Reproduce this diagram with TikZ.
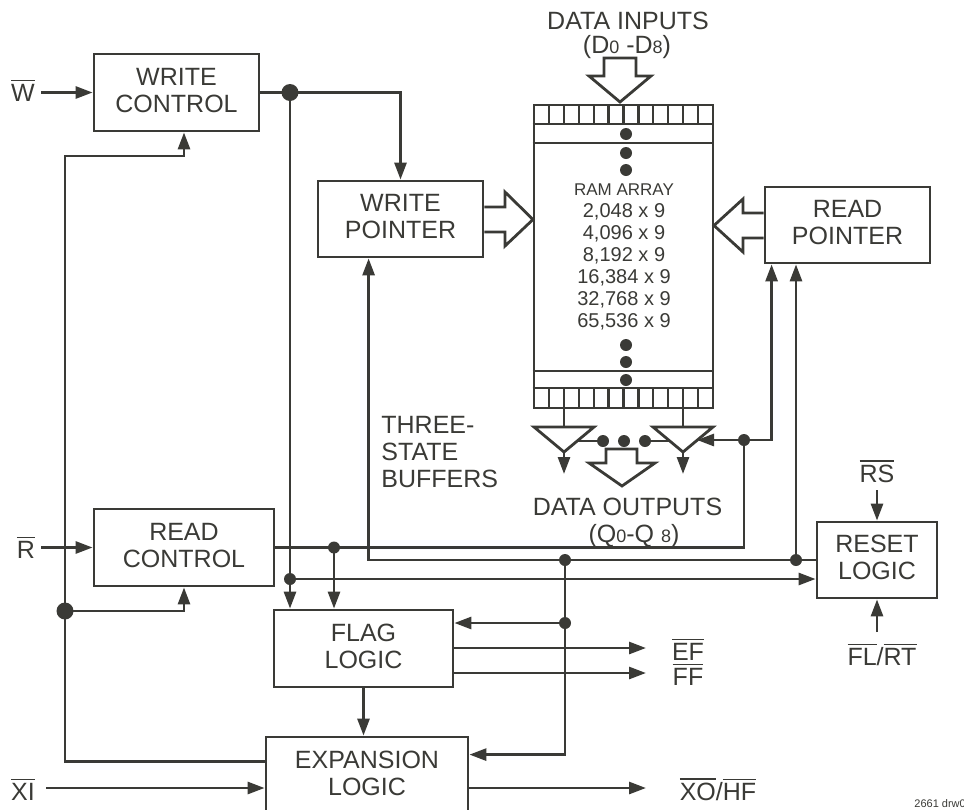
\documentclass[tikz,border=0pt]{standalone}
\usepackage{fontspec}
\setmainfont{Liberation Sans}
\usetikzlibrary{arrows.meta,calc}
\definecolor{ink}{RGB}{58,58,54}
\newcommand\ovl[1]{\leavevmode\vbox{\hrule height 1.6pt\kern 2.6pt\hbox{#1}}}
\newcommand\smd[1]{{\fontsize{18}{18}\selectfont #1}}
\begin{document}
\begin{tikzpicture}[x=1pt,y=-1pt,line width=2.8pt,color=ink,
  blk/.style={draw,line width=2.8pt,inner sep=0pt,align=center,
    font=\fontsize{25}{27}\selectfont,text depth=5pt},
  lab/.style={inner sep=0pt,font=\fontsize{25}{27}\selectfont,anchor=base},
  ramtxt/.style={inner sep=0pt,font=\fontsize{20}{20}\selectfont,anchor=base},
  dot/.style={circle,fill,inner sep=0pt,minimum size=12pt},
  bigdot/.style={circle,fill,inner sep=0pt,minimum size=17pt},
  arr/.style={-{Triangle[length=17pt,width=12pt]}},
  cell/.style={line width=2.2pt},
]
\useasboundingbox (0,0) rectangle (964,809);

% ---------------- blocks
\node[blk,minimum width=165pt,minimum height=77pt] (wc) at (176.5,92.5) {WRITE\\CONTROL};
\node[blk,minimum width=165pt,minimum height=76pt] (wp) at (400.5,219) {WRITE\\POINTER};
\node[blk,minimum width=165pt,minimum height=76pt] (rp) at (847.5,225) {READ\\POINTER};
\node[blk,minimum width=180pt,minimum height=77pt] (rc) at (184,547.5) {READ\\CONTROL};
\node[blk,minimum width=179pt,minimum height=77pt] (fl) at (363.5,648.5) {FLAG\\LOGIC};
\node[blk,minimum width=202pt,minimum height=78pt] (el) at (367,776) {EXPANSION\\LOGIC};
\node[blk,minimum width=120pt,minimum height=76pt] (rl) at (877,560) {RESET\\LOGIC};

% ---------------- RAM array
\node[draw,line width=2.8pt,minimum width=179pt,minimum height=303pt,inner sep=0pt] (ram) at (623.5,256.5) {};
\draw (ram.west |- 0,124) -- (ram.east |- 0,124);
\draw (ram.west |- 0,143) -- (ram.east |- 0,143);
\draw (ram.west |- 0,371) -- (ram.east |- 0,371);
\draw (ram.west |- 0,388) -- (ram.east |- 0,388);
\foreach \k in {1,...,11}{
  \draw[cell] ({534+\k*179/12},105) -- ({534+\k*179/12},124);
  \draw[cell] ({534+\k*179/12},388) -- ({534+\k*179/12},408);
}
\foreach \y in {134,153,170,345,362,380} \fill (626,\y) circle (6pt);
\node[inner sep=0pt,font=\fontsize{17}{17}\selectfont,anchor=base] (rt0) at (624,195) {RAM ARRAY};
\node[ramtxt] (rt1) at (624,217) {2,048 x 9};
\node[ramtxt] (rt2) at (624,239) {4,096 x 9};
\node[ramtxt] (rt3) at (624,261) {8,192 x 9};
\node[ramtxt] (rt4) at (624,283) {16,384 x 9};
\node[ramtxt] (rt5) at (624,305) {32,768 x 9};
\node[ramtxt] (rt6) at (624,327) {65,536 x 9};

% data input
\node[lab] (din) at (628,29) {DATA INPUTS};
\node[lab] (dinr) at (627,53) {(D\smd{0} -D\smd{8})};
\draw[line join=miter] (604,58) -- (636,58) -- (636,76) -- (651,76) -- (620,102) -- (589,76) -- (604,76) -- cycle;

% pointer buses
\draw[line join=miter] (wp.east |- 0,207) -- (505,207) -- (505,192) -- (533,219.5) -- (505,246) -- (505,232) -- (wp.east |- 0,232);
\draw[line join=miter] (rp.west |- 0,213) -- (743,213) -- (743,199) -- (714,225.5) -- (743,252) -- (743,238) -- (rp.west |- 0,238);

% three-state buffers
\draw (564,408) -- (564,427);
\draw[line join=miter] (534,427) -- (594,427) -- (564,452) -- cycle;
\draw[arr] (564,452) -- (564,474);
\draw (683,408) -- (683,427);
\draw[line join=miter] (653,427) -- (713,427) -- (683,452) -- cycle;
\draw[arr] (683,452) -- (683,474);
\draw (577,441) -- (603,441);
\foreach \x in {603,624,645} \fill (\x,441) circle (6pt);
\draw (645,441) -- (670,441);
\draw[line join=miter] (606,449) -- (637,449) -- (637,463) -- (655,463) -- (622,486) -- (589,463) -- (606,463) -- cycle;
\node[lab] (dout) at (627.5,515) {DATA OUTPUTS};
\node[lab] (doutr) at (634,542) {(Q\smd{0}-Q \smd{8})};
\node[lab,anchor=base west] (tsb1) at (380,433) {THREE-};
\node[lab,anchor=base west] (tsb2) at (380,460) {STATE};
\node[lab,anchor=base west] (tsb3) at (380,487) {BUFFERS};

% ---------------- signal labels
\node[lab] (lw) at (23,101) {\ovl{W}};
\node[lab] (lr) at (26,558) {\ovl{R}};
\node[lab] (lxi) at (23,800) {\ovl{XI}};
\node[lab] (lef) at (688,660) {\ovl{EF}};
\node[lab] (lff) at (688,685) {\ovl{FF}};
\node[lab] (lxo) at (718,800) {\ovl{XO}/\ovl{HF}};
\node[lab] (lrs) at (877,482) {\ovl{RS}};
\node[lab] (lfl) at (882,665) {\ovl{FL}/\ovl{RT}};
\node[inner sep=0pt,font=\fontsize{11}{11}\selectfont,anchor=base west] (drw) at (913,807) {2661 drw01};

\coordinate (win) at (41,92.5);
\coordinate (rin) at (41,547.5);
\coordinate (xiin) at (46,788);
\coordinate (efo) at (646,648);
\coordinate (ffo) at (646,673);
\coordinate (xoo) at (646,788);
\coordinate (rsin) at (877,490);
\coordinate (flin) at (877,632);
\coordinate (bufen) at (697,440);

% ---------------- junctions
\node[bigdot] (jw) at (290,92.5) {};
\node[bigdot] (jl) at (65,611) {};
\node[dot] (jwf) at (290,579) {};
\node[dot] (jr) at (334,547.5) {};
\node[dot] (jb) at (744,440) {};
\node[dot] (jq) at (796,560) {};
\node[dot] (js) at (565,560) {};
\node[dot] (jt) at (565,623) {};

% ---------------- connectors
\draw[arr] (win) -- (wc.west);
\draw (wc.east) -- (jw.center);
\draw[arr] (jw.center) -| (wp.north);
\draw[arr] (jw.center) -- (jw |- fl.north);
\draw[arr] (jwf.center) -- (rl.west |- jwf);

\draw[arr] (rin) -- (rc.west);
\draw (rc.east) -- (744,547.5) -- (jb.center);
\draw[arr] (jr.center) -- (jr |- fl.north);
\draw[arr] (jb.center) -- (bufen);
\draw[arr] (jb.center) -| ($(rp.south west)+(8,0)$);

\draw[arr] (rl.west) -| ($(wp.south west)+(52,0)$);
\draw[arr] (jq.center) -- (jq |- rp.south);
\draw (js.center) -- (jt.center);
\draw[arr] (jt.center) -- (fl.east |- jt);
\draw[arr] (jt.center) |- ($(el.north east)+(0,19)$);

\draw[arr] (fl.east |- efo) -- (efo);
\draw[arr] (fl.east |- ffo) -- (ffo);
\draw[arr] (fl.south) -- (fl.south |- el.north);

\draw[arr] (xiin) -- (el.west |- xiin);
\draw[arr] (el.east |- xoo) -- (xoo);
\draw[arr] (rsin) -- (rl.north);
\draw[arr] (flin) -- (rl.south);

\draw ($(el.north west)+(0,26)$) -| (jl.center);
\draw[arr] (jl.center) |- (184,156) -- (wc.south -| 184,0);
\draw[arr] (jl.center) -| (rc.south);
\end{tikzpicture}
\end{document}
